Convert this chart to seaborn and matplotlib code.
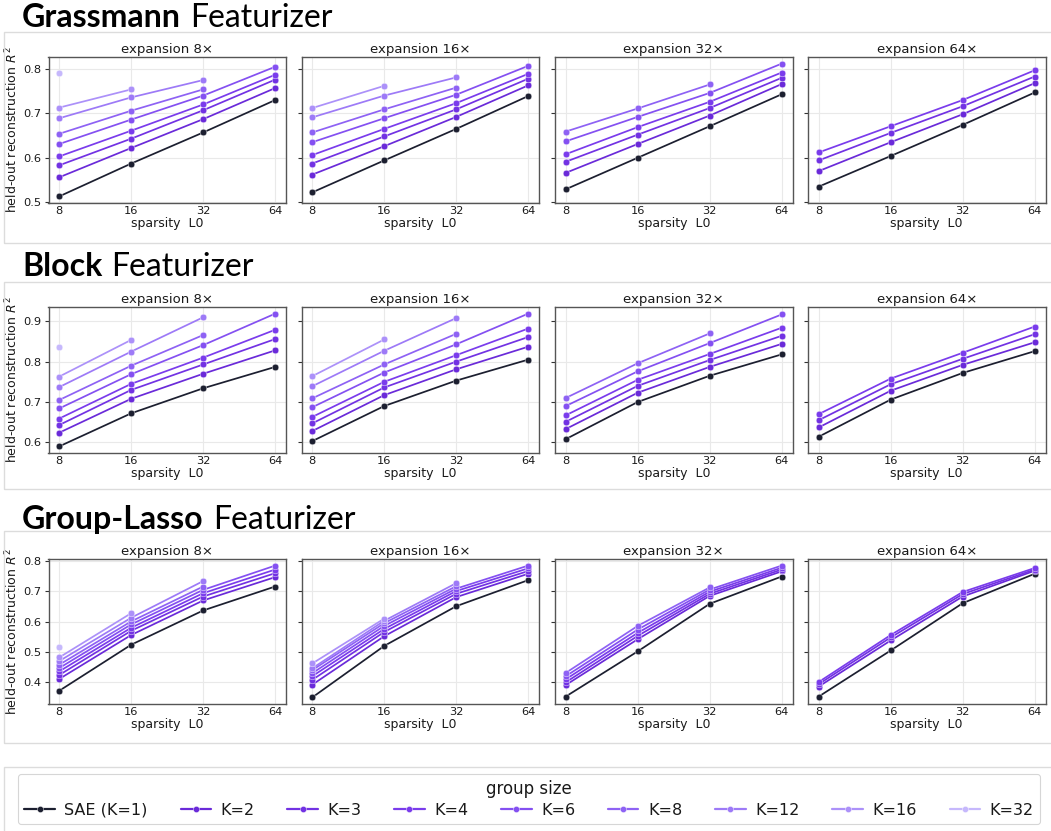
import numpy as np
import pandas as pd
import seaborn as sns
import matplotlib
matplotlib.use("Agg")
import matplotlib.pyplot as plt
from matplotlib.patches import Rectangle
from matplotlib.lines import Line2D
from matplotlib.ticker import MultipleLocator, FixedLocator, NullLocator

nan = np.nan

# ---------------- data ----------------
L0 = [8, 16, 32, 64]
EXPANSIONS = [8, 16, 32, 64]
GROUPS = ["SAE (K=1)", "K=2", "K=3", "K=4", "K=6", "K=8", "K=12", "K=16", "K=32"]
COLORS = ["#1c1f30", "#6a2ad9", "#7232e3", "#7a3cec", "#8450f1", "#8e62f4",
          "#9d7af7", "#ac91f9", "#c6b8fc"]
FEATURIZERS = ["Grassmann", "Block", "Group-Lasso"]

# rows follow GROUPS order; columns follow L0
grassmann_e8 = [
    [0.513, 0.587, 0.657, 0.730],
    [0.556, 0.622, 0.687, 0.757],
    [0.583, 0.643, 0.707, 0.776],
    [0.603, 0.661, 0.720, 0.787],
    [0.631, 0.686, 0.740, 0.805],
    [0.654, 0.706, 0.754, nan],
    [0.689, 0.736, 0.775, nan],
    [0.713, 0.754, nan, nan],
    [0.790, nan, nan, nan],
]
grassmann_e16 = [
    [0.522, 0.594, 0.665, 0.739],
    [0.562, 0.626, 0.692, 0.763],
    [0.587, 0.648, 0.709, 0.778],
    [0.606, 0.665, 0.723, 0.789],
    [0.635, 0.689, 0.742, 0.807],
    [0.657, 0.709, 0.758, nan],
    [0.691, 0.740, 0.781, nan],
    [0.712, 0.762, nan, nan],
]
grassmann_e32 = [
    [0.529, 0.600, 0.671, 0.743],
    [0.566, 0.631, 0.695, 0.766],
    [0.591, 0.652, 0.712, 0.780],
    [0.608, 0.669, 0.726, 0.792],
    [0.637, 0.692, 0.746, 0.812],
    [0.659, 0.711, 0.765, nan],
]
grassmann_e64 = [
    [0.535, 0.604, 0.674, 0.747],
    [0.570, 0.635, 0.698, 0.768],
    [0.594, 0.656, 0.716, 0.783],
    [0.612, 0.671, 0.730, 0.797],
]

block_e8 = [
    [0.590, 0.672, 0.734, 0.787],
    [0.624, 0.708, 0.770, 0.828],
    [0.643, 0.730, 0.793, 0.856],
    [0.659, 0.745, 0.810, 0.879],
    [0.684, 0.769, 0.841, 0.919],
    [0.705, 0.790, 0.866, nan],
    [0.737, 0.825, 0.910, nan],
    [0.763, 0.854, nan, nan],
    [0.836, nan, nan, nan],
]
block_e16 = [
    [0.603, 0.690, 0.753, 0.805],
    [0.628, 0.717, 0.781, 0.837],
    [0.647, 0.736, 0.800, 0.861],
    [0.663, 0.750, 0.816, 0.882],
    [0.687, 0.773, 0.843, 0.919],
    [0.709, 0.793, 0.869, nan],
    [0.739, 0.827, 0.908, nan],
    [0.764, 0.855, nan, nan],
]
block_e32 = [
    [0.608, 0.700, 0.765, 0.818],
    [0.633, 0.723, 0.787, 0.844],
    [0.651, 0.740, 0.804, 0.864],
    [0.667, 0.755, 0.819, 0.884],
    [0.690, 0.776, 0.846, 0.917],
    [0.710, 0.796, 0.870, nan],
]
block_e64 = [
    [0.614, 0.706, 0.772, 0.826],
    [0.637, 0.728, 0.792, 0.848],
    [0.655, 0.744, 0.807, 0.868],
    [0.670, 0.758, 0.822, 0.887],
]

lasso_e8 = [
    [0.372, 0.524, 0.637, 0.716],
    [0.411, 0.556, 0.670, 0.747],
    [0.424, 0.570, 0.683, 0.760],
    [0.436, 0.580, 0.694, 0.772],
    [0.447, 0.591, 0.705, 0.785],
    [0.458, 0.601, 0.716, nan],
    [0.470, 0.613, 0.734, nan],
    [0.482, 0.628, nan, nan],
    [0.515, nan, nan, nan],
]
lasso_e16 = [
    [0.350, 0.520, 0.651, 0.737],
    [0.392, 0.552, 0.681, 0.758],
    [0.408, 0.566, 0.692, 0.767],
    [0.420, 0.576, 0.701, 0.776],
    [0.430, 0.586, 0.709, 0.785],
    [0.440, 0.595, 0.717, nan],
    [0.446, 0.603, 0.727, nan],
    [0.462, 0.610, nan, nan],
]
lasso_e32 = [
    [0.353, 0.502, 0.659, 0.749],
    [0.391, 0.542, 0.685, 0.766],
    [0.400, 0.553, 0.692, 0.772],
    [0.410, 0.563, 0.699, 0.778],
    [0.420, 0.574, 0.706, 0.785],
    [0.431, 0.586, 0.713, nan],
]
lasso_e64 = [
    [0.353, 0.505, 0.661, 0.758],
    [0.386, 0.538, 0.683, 0.768],
    [0.394, 0.548, 0.691, 0.772],
    [0.401, 0.556, 0.698, 0.777],
]

TABLES = {
    "Grassmann": [grassmann_e8, grassmann_e16, grassmann_e32, grassmann_e64],
    "Block": [block_e8, block_e16, block_e32, block_e64],
    "Group-Lasso": [lasso_e8, lasso_e16, lasso_e32, lasso_e64],
}

records = []
for feat, tabs in TABLES.items():
    for exp, tab in zip(EXPANSIONS, tabs):
        for g, row in zip(GROUPS, tab):
            for x, v in zip(L0, row):
                if not np.isnan(v):
                    records.append(dict(featurizer=feat, expansion=exp, group=g, L0=x, r2=v))
df = pd.DataFrame(records)
palette = dict(zip(GROUPS, COLORS))

# ---------------- style ----------------
sns.set_theme(style="whitegrid")
plt.rcParams.update({
    "font.family": ["DejaVu Sans"],
    "axes.edgecolor": "#555555",
    "axes.linewidth": 1.0,
    "grid.color": "#e9e9e9",
    "grid.linewidth": 0.8,
    "xtick.labelsize": 8.2,
    "ytick.labelsize": 8.2,
    "axes.labelsize": 9,
    "axes.titlesize": 9.5,
    "text.color": "#1a1a1a",
    "axes.labelcolor": "#1a1a1a",
    "xtick.color": "#1a1a1a",
    "ytick.color": "#1a1a1a",
})

W, H = 1051, 831
fig = plt.figure(figsize=(W / 100, H / 100), dpi=100)


def fx(x):
    return x / W


def fy(y):
    return 1 - y / H


def frame(x0, y0, x1, y1):
    fig.patches.append(Rectangle((fx(x0), fy(y1)), fx(x1 - x0), (y1 - y0) / H,
                                 transform=fig.transFigure, fill=False,
                                 edgecolor="#dcdcdc", linewidth=1.0))


ROW_TOP = [57, 307, 559]
ROW_BOT = [203, 453, 704]
FRAMES = [(4, 32, 1060, 243), (4, 282, 1060, 489), (4, 531, 1060, 743)]
TITLE_BASE = [27, 276, 529]
COL_LEFT = [48.5, 301.5, 555, 808]
AX_W = 237.5

renderer = fig.canvas.get_renderer()
for r, feat in enumerate(FEATURIZERS):
    frame(*FRAMES[r])
    t1 = fig.text(fx(22), fy(TITLE_BASE[r]), feat, fontsize=23, fontweight="bold",
                  family="Lato", va="baseline", ha="left", color="black")
    bb = t1.get_window_extent(renderer)
    fig.text(bb.x1 / W + fx(9), fy(TITLE_BASE[r]), "Featurizer", fontsize=23,
             family="Lato", va="baseline", ha="left", color="black")
    first = None
    for c, exp in enumerate(EXPANSIONS):
        ax = fig.add_axes([fx(COL_LEFT[c]), fy(ROW_BOT[r]), fx(AX_W),
                           (ROW_BOT[r] - ROW_TOP[r]) / H],
                          sharey=first)
        if first is None:
            first = ax
        sub = df[(df.featurizer == feat) & (df.expansion == exp)]
        present = [g for g in GROUPS if g in set(sub.group)]
        sns.lineplot(data=sub, x="L0", y="r2", hue="group", hue_order=present,
                     palette=palette, marker="o", markersize=4.8,
                     markeredgecolor="white", markeredgewidth=0.3,
                     linewidth=1.25, errorbar=None, legend=False, ax=ax)
        ax.set_xscale("log", base=2)
        ax.xaxis.set_major_locator(FixedLocator(L0))
        ax.xaxis.set_minor_locator(NullLocator())
        ax.set_xticklabels([str(v) for v in L0])
        ax.yaxis.set_major_locator(MultipleLocator(0.1))
        ax.tick_params(axis="y", left=True, length=3, width=0.8, color="#333333", pad=2)
        ax.tick_params(axis="x", bottom=False, length=0, pad=2)
        ax.set_title(f"expansion {exp}\u00d7", pad=3)
        ax.set_xlabel("sparsity  L0", labelpad=1)
        if c == 0:
            ax.set_ylabel("held-out reconstruction $R^2$", labelpad=2)
        else:
            ax.set_ylabel("")
            plt.setp(ax.get_yticklabels(), visible=False)
        for s in ax.spines.values():
            s.set_color("#555555")

# ---------------- legend ----------------
frame(4, 767, 1060, 840)
handles = [Line2D([0], [0], color=col, marker="o", markersize=4.5, linewidth=1.6,
                  markeredgecolor="white", markeredgewidth=0.3) for col in COLORS]
leg = fig.legend(handles, GROUPS, ncol=9, title="group size",
                 loc="center", mode="expand",
                 bbox_to_anchor=(fx(18), fy(826), fx(1022), 54 / H),
                 fontsize=11.5, title_fontsize=12, frameon=True, fancybox=True,
                 edgecolor="#cccccc", handlelength=1.9, handletextpad=0.6,
                 borderaxespad=0.0, borderpad=0.4, labelspacing=0.3)
leg.get_frame().set_linewidth(0.8)

fig.savefig("out.png", dpi=100)
